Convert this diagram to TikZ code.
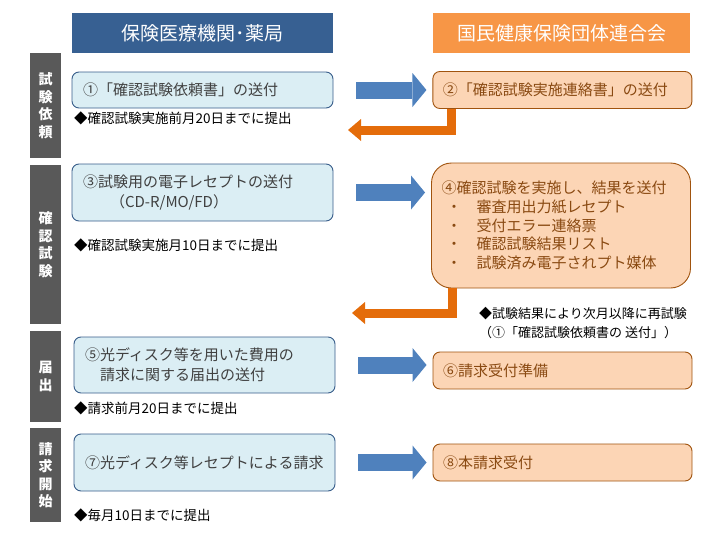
\documentclass[tikz,border=0pt]{standalone}
\usepackage{fontspec}
\setmainfont{Noto Sans CJK JP}
\usepackage{xcolor}
\usetikzlibrary{arrows.meta,positioning,calc}
\definecolor{headblue}{HTML}{376092}
\definecolor{headorange}{HTML}{F79646}
\definecolor{phasegray}{HTML}{595959}
\definecolor{medfill}{HTML}{DBEEF4}
\definecolor{medline}{HTML}{385D8A}
\definecolor{medtext}{HTML}{404040}
\definecolor{unionfill}{HTML}{FCD5B5}
\definecolor{unionline}{HTML}{A0530E}
\definecolor{uniontext}{HTML}{8A4A12}
\definecolor{fwdblue}{HTML}{4F81BD}
\definecolor{backorange}{HTML}{E46C0A}

\begin{document}
\begin{tikzpicture}[
  x=1pt, y=-1pt,
  header/.style={minimum height=40pt, inner sep=0pt, text=white, font=\fontsize{19}{22}\selectfont},
  phase/.style={fill=phasegray, minimum width=31pt, inner sep=0pt, align=center, text=white, font=\bfseries\fontsize{14}{17.5}\selectfont},
  medbox/.style={draw=medline, fill=medfill, line width=0.9pt, rounded corners=7pt, inner xsep=11pt, inner ysep=0pt, text width=239pt, align=left, text=medtext, font=\fontsize{15}{20}\selectfont},
  unionbox/.style={draw=unionline, fill=unionfill, line width=0.9pt, rounded corners=7pt, inner xsep=10pt, inner ysep=0pt, text width=239pt, align=left, text=uniontext, font=\fontsize{15}{18.8}\selectfont},
  note/.style={anchor=west, inner sep=0pt, align=left, font=\fontsize{13.5}{19}\selectfont},
  fwd/.style={draw=fwdblue, line width=17pt, shorten <=23pt, shorten >=6pt, -{Triangle[width=34pt,length=14pt,line width=0pt]}},
  back/.style={draw=backorange, line width=9pt, -{Triangle[width=22pt,length=13pt,line width=0pt]}}
]
\useasboundingbox (0,0) rectangle (718,541);

\node[header, fill=headblue, minimum width=261pt] (medical) at (202.5,33) {保険医療機関･薬局};
\node[header, fill=headorange, minimum width=257pt] (union) at (561.5,33) {国民健康保険団体連合会};

\node[phase, minimum height=105pt] (ph1) at (45.5,105.5) {試\\験\\依\\頼};
\node[phase, minimum height=159pt] (ph2) at (45.5,244.5) {確\\認\\試\\験};
\node[phase, minimum height=91pt] (ph3) at (45.5,376.5) {届\\出};
\node[phase, minimum height=94pt] (ph4) at (45.5,475) {請\\求\\開\\始};

\node[medbox, minimum height=36pt] (req) at (202.5,90) {①「確認試験依頼書」の送付};
\node[unionbox, minimum height=37pt, right=99pt of req] (notice) {②「確認試験実施連絡書」の送付};
\node[medbox, minimum height=57pt] (test) at (202.5,192.5) {③試験用の電子レセプトの送付\\\hspace*{27pt}（CD-R/MO/FD）};
\node[unionbox, minimum height=125pt, rounded corners=20pt] (result) at (561,225.5) {④確認試験を実施し、結果を送付\\
  \hspace*{5pt}\makebox[30pt][l]{・}審査用出力紙レセプト\\
  \hspace*{5pt}\makebox[30pt][l]{・}受付エラー連絡票\\
  \hspace*{5pt}\makebox[30pt][l]{・}確認試験結果リスト\\
  \hspace*{5pt}\makebox[30pt][l]{・}試験済み電子されプト媒体};
\node[medbox, minimum height=56pt] (notify) at (204.5,365) {⑤光ディスク等を用いた費用の\\\hspace*{15pt}請求に関する届出の送付};
\node[unionbox, minimum height=37pt] (prep) at (562.5,370.5) {⑥請求受付準備};
\node[medbox, minimum height=57pt] (claim) at (204.5,462.5) {⑦光ディスク等レセプトによる請求};
\node[unionbox, minimum height=37pt] (accept) at (562.5,462.5) {⑧本請求受付};

\node[note] (due1) at (74,118) {◆確認試験実施前月20日までに提出};
\node[note] (due2) at (74,245) {◆確認試験実施月10日までに提出};
\node[note] (due3) at (74,408) {◆請求前月20日までに提出};
\node[note] (due4) at (74,515) {◆毎月10日までに提出};
\node[note, font=\fontsize{13}{19}\selectfont] (retry) at (479,322.5) {◆試験結果により次月以降に再試験\\（①「確認試験依頼書の 送付」）};

\coordinate (ret1) at (348,130);
\coordinate (ret2) at (352,313);

\draw[fwd] (req.east) -- (req.east -| notice.west);
\draw[fwd] (test.east) -- (test.east -| result.west);
\draw[fwd] (notify.east) -- (notify.east -| prep.west);
\draw[fwd] (claim.east) -- (claim.east -| accept.west);
\draw[back] ([xshift=19pt]notice.south west) |- (ret1);
\draw[back] ([xshift=21.5pt]result.south west) |- (ret2);
\end{tikzpicture}
\end{document}
